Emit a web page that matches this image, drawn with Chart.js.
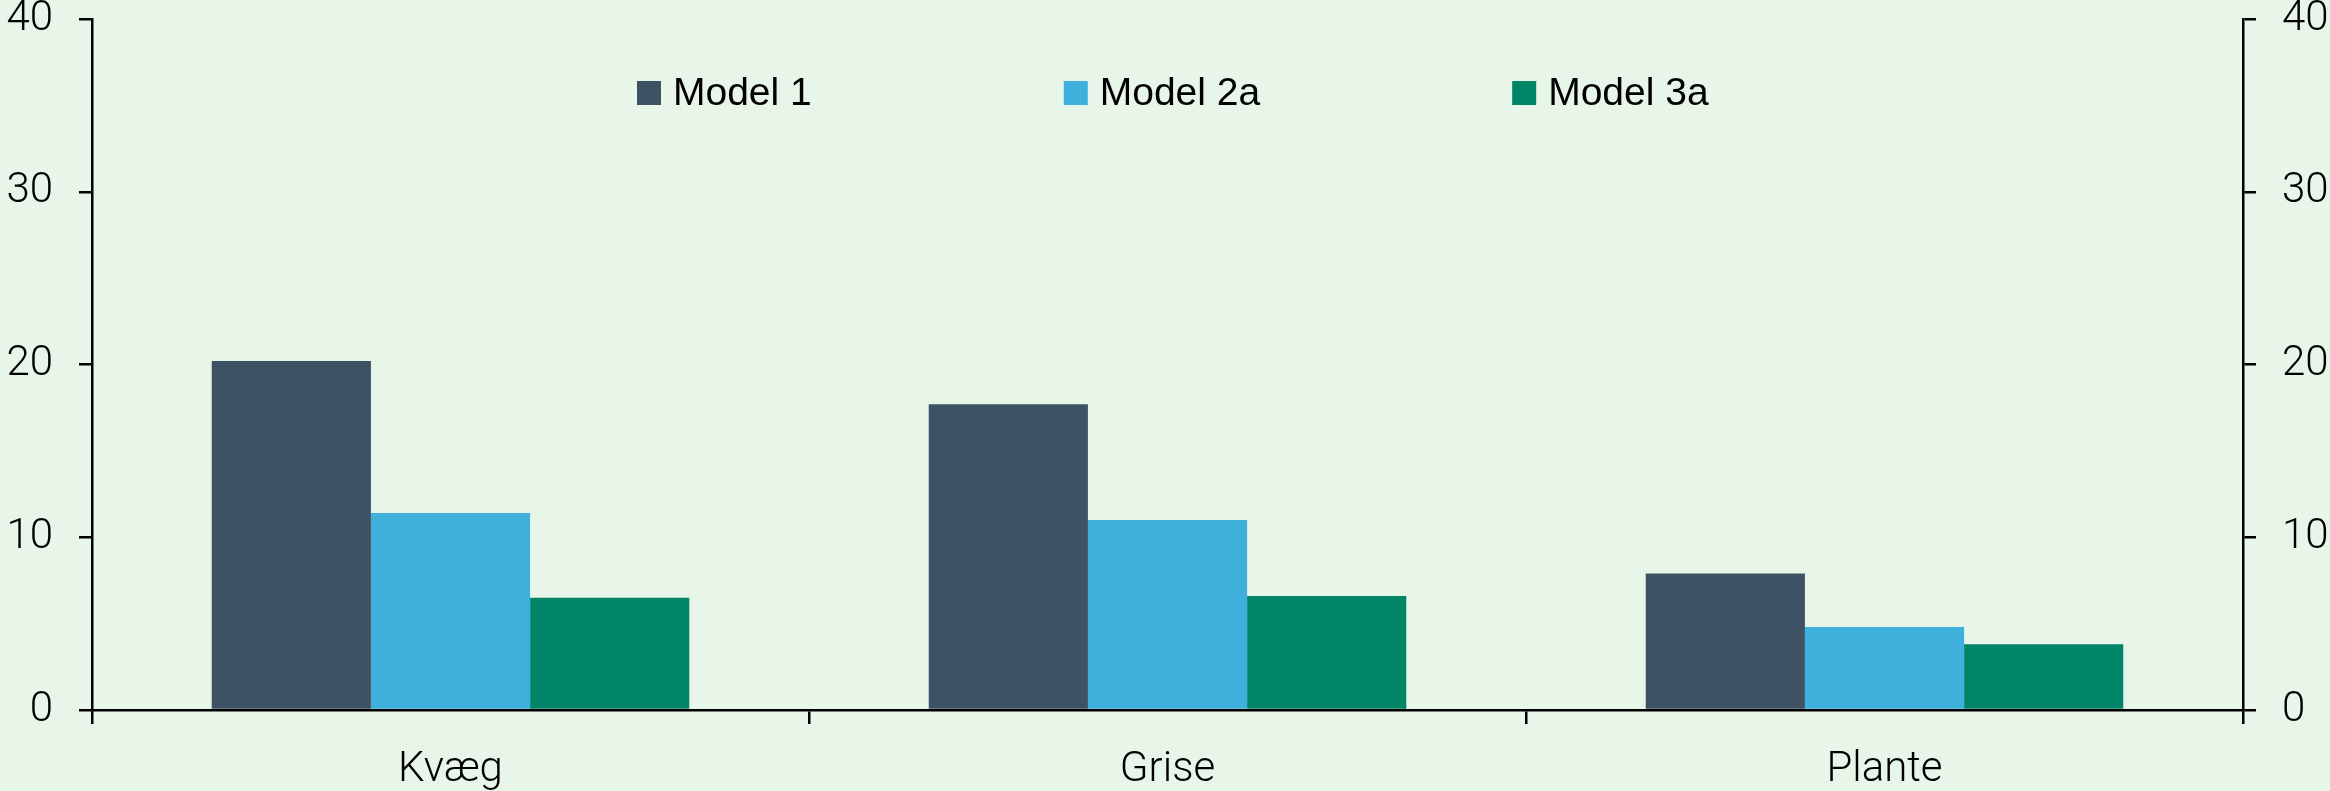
<!DOCTYPE html>
<html>
<head>
<meta charset="utf-8">
<title>Model 1 / 2a / 3a</title>
<script src="https://cdn.jsdelivr.net/npm/chart.js@4/dist/chart.umd.min.js"></script>
<style>
    html, body { margin: 0; padding: 0; background: #e8f6ea; overflow: hidden; }
    #wrap { width: 2330px; height: 791px; }
</style>
</head>
<body>
<div id="wrap"><canvas id="modelBars" width="2330" height="791"></canvas></div>
<script>
// --- data ---
var categories  = ["Kvæg", "Grise", "Plante"];
var seriesNames = ["Model 1", "Model 2a", "Model 3a"];
var model1      = [20.2, 17.7, 7.9];
var model2a     = [11.4, 11.0, 4.8];
var model3a     = [6.5, 6.6, 3.8];
var yTicks      = [0, 10, 20, 30, 40];

var colours = ["#3d5263", "#3fafdb", "#008567"];
var tickFont = { family: "Roboto", weight: 300, size: 42 };

// legend drawn inside the plot area, one row
var innerLegend = {
    id: 'innerLegend',
    afterDraw: function (chart) {
        var ctx = chart.ctx;
        var area = chart.chartArea;
        var x = area.left + 545;
        var y = 93;
        ctx.save();
        ctx.font = "39px 'Liberation Sans', Arial, sans-serif";
        ctx.textBaseline = 'middle';
        ctx.textAlign = 'left';
        chart.data.datasets.forEach(function (ds) {
            ctx.fillStyle = ds.backgroundColor;
            ctx.fillRect(x, y - 12, 24, 24);
            ctx.fillStyle = '#000';
            ctx.fillText(ds.label, x + 36, y + 1);
            x += 36 + ctx.measureText(ds.label).width + 252;
        });
        ctx.restore();
    }
};

var ctx = document.getElementById('modelBars');

var datasets = [model1, model2a, model3a].map(function (vals, i) {
    return {
        label: seriesNames[i],
        data: vals,
        backgroundColor: colours[i],
        borderWidth: 0,
        categoryPercentage: 0.666,
        barPercentage: 1.0
    };
});

var axisLine = { display: true, color: '#000', width: 2.5 };

function fixedTicks(s) {
    s.ticks = yTicks.map(function (v) { return { value: v }; });
}
// stop the label overhang from pushing the plot area in
function noOverhang(s) {
    s.paddingTop = 0;
    s.paddingBottom = 0;
}

new Chart(ctx, {
    type: 'bar',
    data: { labels: categories, datasets: datasets },
    plugins: [innerLegend],
    options: {
        responsive: false,
        animation: false,
        devicePixelRatio: 1,
        layout: { padding: { top: 19, left: 0, right: 0, bottom: 0 } },
        plugins: {
            legend: { display: false },
            tooltip: { enabled: false }
        },
        scales: {
            x: {
                offset: true,
                border: axisLine,
                grid: { offset: true, drawOnChartArea: false, drawTicks: true, tickLength: 14, color: '#000', lineWidth: 2.5 },
                ticks: { color: '#000', font: tickFont, padding: 21, maxRotation: 0 },
                afterFit: function (s) { s.height = 81; s.paddingLeft = 0; s.paddingRight = 0; }
            },
            y: {
                position: 'left',
                min: 0,
                max: 40,
                afterBuildTicks: fixedTicks,
                border: axisLine,
                grid: { drawOnChartArea: false, drawTicks: true, tickLength: 13, color: '#000', lineWidth: 2.5 },
                ticks: { color: '#000', font: tickFont, padding: 26 },
                afterFit: function (s) { s.width = 92; noOverhang(s); }
            },
            y2: {
                position: 'right',
                min: 0,
                max: 40,
                afterBuildTicks: fixedTicks,
                border: axisLine,
                grid: { drawOnChartArea: false, drawTicks: true, tickLength: 13, color: '#000', lineWidth: 2.5 },
                ticks: { color: '#000', font: tickFont, padding: 26 },
                afterFit: function (s) { s.width = 87; noOverhang(s); }
            }
        }
    }
});
</script>
</body>
</html>
